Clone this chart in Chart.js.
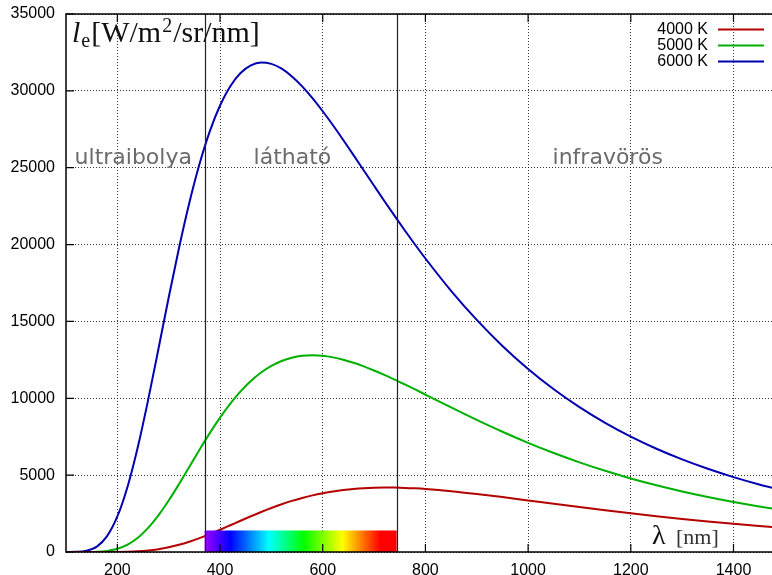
<!DOCTYPE html>
<html>
<head>
<meta charset="utf-8">
<script src="https://cdn.jsdelivr.net/npm/chart.js@4/dist/chart.umd.min.js"></script>
<style>
  html, body { margin: 0; padding: 0; background: #fff; }
  #wrap { width: 772px; height: 575px; position: relative; }
</style>
</head>
<body>
<div id="wrap"><canvas id="c" width="772" height="575"></canvas></div>
<script>
// Spectral radiance of a black body, W/m²/sr/nm, sampled by wavelength (nm)
const wavelengths = [100,120,140,160,180,200,220,240,260,280,300,320,340,360,380,400,420,440,460,480,
  500,520,540,560,580,600,620,640,660,680,700,720,740,760,780,800,
  850,900,950,1000,1050,1100,1150,1200,1250,1300,1350,1400,1450,1500];

const radiance4000 = [0,0,0,0.2,1.3,5.8,18.3,46.3,98.4,182,304,466,667,902,1164,1446,1739,2034,2324,2603,
  2865,3106,3324,3517,3684,3825,3942,4034,4104,4152,4181,4193,4189,4171,4140,4098,
  3957,3776,3572,3356,3137,2922,2713,2515,2327,2152,1988,1837,1697,1568];

const radiance5000 = [0,0.2,2.6,17.6,71.9,210,482,928,1565,2382,3346,4414,5533,6654,7735,8742,9652,10447,11121,11673,
  12106,12426,12640,12760,12797,12761,12661,12507,12310,12074,11810,11523,11219,10900,10574,10242,
  9408,8595,7822,7102,6437,5832,5282,4786,4339,3937,3576,3252,2960,2699];

const radiance6000 = [0.5,10,81,352,1032,2310,4266,6848,9898,13206,16558,19765,22691,25239,27364,29047,30304,31161,31660,31843,
  31753,31440,30940,30291,29525,28673,27760,26800,25817,24819,23824,22836,21866,20914,19989,19094,
  16992,15098,13406,11909,10588,9425,8404,7506,6717,6023,5412,4872,4395,3974];

const seriesLabels = ['4000 K', '5000 K', '6000 K'];
const seriesColors = ['#b50000', '#00b000', '#0000b0'];

const xTickValues = [200, 400, 600, 800, 1000, 1200, 1400];
const yTickValues = [0, 5000, 10000, 15000, 20000, 25000, 30000, 35000];

// Visible range (nm) and the height of the colour band drawn inside it
const visibleRange = [370, 744];
const bandTop = 1400;

const regionNames = ['ultraibolya', 'látható', 'infravörös'];
const regionCenters = [231, 541, 1155];
const regionBaseline = 25250;

const toPoints = vals => wavelengths.map((w, i) => ({ x: w, y: vals[i] }));

const decor = {
  id: 'decor',
  afterDatasetsDraw(chart) {
    const { ctx, chartArea: a, scales: { x, y } } = chart;
    ctx.save();
    // colour band of the visible spectrum
    const x0 = x.getPixelForValue(visibleRange[0]);
    const x1 = x.getPixelForValue(visibleRange[1]);
    const yt = y.getPixelForValue(bandTop);
    const yb = y.getPixelForValue(0);
    const g = ctx.createLinearGradient(x0, 0, x1, 0);
    g.addColorStop(0.0, '#a000ff');
    g.addColorStop(0.134, '#0000ff');
    g.addColorStop(0.334, '#00ffff');
    g.addColorStop(0.516, '#00ff00');
    g.addColorStop(0.717, '#ffff00');
    g.addColorStop(0.914, '#ff0000');
    g.addColorStop(1.0, '#ff0000');
    ctx.fillStyle = g;
    ctx.fillRect(x0, yt, x1 - x0, yb - yt);

    // boundaries of the visible range
    ctx.strokeStyle = '#222';
    ctx.lineWidth = 1.2;
    for (const v of visibleRange) {
      const px = Math.round(x.getPixelForValue(v)) + 0.5;
      ctx.beginPath();
      ctx.moveTo(px, a.top);
      ctx.lineTo(px, a.bottom);
      ctx.stroke();
    }
    ctx.restore();
  },
  afterDraw(chart) {
    const { ctx, chartArea: a, scales: { x, y } } = chart;
    ctx.save();
    // frame
    ctx.strokeStyle = '#000';
    ctx.lineWidth = 1.5;
    ctx.beginPath();
    ctx.moveTo(chart.width + 2, a.top);
    ctx.lineTo(a.left, a.top);
    ctx.lineTo(a.left, a.bottom);
    ctx.lineTo(chart.width + 2, a.bottom);
    ctx.stroke();

    // inward tick marks
    const tl = 8;
    ctx.lineWidth = 1.2;
    ctx.beginPath();
    for (const v of xTickValues) {
      const px = x.getPixelForValue(v);
      ctx.moveTo(px, a.bottom); ctx.lineTo(px, a.bottom - tl);
      ctx.moveTo(px, a.top); ctx.lineTo(px, a.top + tl);
    }
    for (const v of yTickValues) {
      const py = y.getPixelForValue(v);
      ctx.moveTo(a.left, py); ctx.lineTo(a.left + tl, py);
    }
    ctx.stroke();

    // region names
    ctx.fillStyle = '#6b6b6b';
    ctx.font = '22px "DejaVu Sans"';
    ctx.textAlign = 'center';
    ctx.textBaseline = 'alphabetic';
    const ry = y.getPixelForValue(regionBaseline);
    regionNames.forEach((t, i) => ctx.fillText(t, x.getPixelForValue(regionCenters[i]), ry));

    // y axis quantity: l_e [W/m^2/sr/nm]
    ctx.fillStyle = '#111';
    ctx.textAlign = 'left';
    let tx = a.left + 6;
    const by = a.top + 28;
    ctx.font = 'italic 30px "Liberation Serif"';
    ctx.fillText('l', tx, by); tx += ctx.measureText('l').width + 1;
    ctx.font = '20px "Liberation Serif"';
    ctx.fillText('e', tx, by + 5); tx += ctx.measureText('e').width + 1;
    ctx.font = '30px "Liberation Serif"';
    ctx.fillText('[W/m', tx, by); tx += ctx.measureText('[W/m').width;
    ctx.font = '20px "Liberation Serif"';
    ctx.fillText('2', tx + 1, by - 10); tx += ctx.measureText('2').width + 2;
    ctx.font = '30px "Liberation Serif"';
    ctx.fillText('/sr/nm]', tx, by);

    // x axis quantity: λ [nm]
    ctx.font = '28px "Liberation Serif"';
    ctx.fillText('λ', 652, a.bottom - 8);
    ctx.fillStyle = '#333';
    ctx.font = '22px "Liberation Serif"';
    ctx.fillText('[nm]', 676, a.bottom - 8);

    // legend
    ctx.font = '16px "Liberation Sans"';
    ctx.textAlign = 'right';
    ctx.textBaseline = 'middle';
    chart.data.datasets.forEach((ds, i) => {
      const ly = a.top + 15.5 + i * 16;
      ctx.fillStyle = '#000';
      ctx.fillText(ds.label, 708, ly);
      ctx.strokeStyle = ds.borderColor;
      ctx.lineWidth = 2;
      ctx.beginPath();
      ctx.moveTo(718, ly);
      ctx.lineTo(764, ly);
      ctx.stroke();
    });
    ctx.restore();
  }
};

const gridStyle = { color: 'rgba(0,0,0,0.8)', lineWidth: 1, drawTicks: false };
const tickFont = { family: 'Liberation Sans', size: 16 };
const plainNumber = v => String(v);

new Chart(document.getElementById('c'), {
  type: 'line',
  data: {
    datasets: [radiance4000, radiance5000, radiance6000].map((vals, i) => ({
      label: seriesLabels[i],
      data: toPoints(vals),
      borderColor: seriesColors[i],
      borderWidth: 2,
      pointRadius: 0,
      cubicInterpolationMode: 'monotone',
      fill: false
    }))
  },
  options: {
    responsive: false,
    animation: false,
    devicePixelRatio: 1,
    layout: { padding: { top: 14, right: 0, left: 0, bottom: 0 } },
    plugins: { legend: { display: false }, tooltip: { enabled: false } },
    scales: {
      x: {
        type: 'linear',
        min: 100,
        max: 1475,
        afterBuildTicks: s => { s.ticks = xTickValues.map(v => ({ value: v })); },
        afterFit: s => { s.height = 23; s.paddingRight = 0; s.paddingLeft = 0; },
        ticks: { font: tickFont, color: '#000', padding: 9, maxRotation: 0, autoSkip: false, callback: plainNumber },
        grid: gridStyle,
        border: { display: false, dash: [1, 2] }
      },
      y: {
        type: 'linear',
        min: 0,
        max: 35000,
        afterBuildTicks: s => { s.ticks = yTickValues.map(v => ({ value: v })); },
        afterFit: s => { s.width = 66; s.paddingTop = 0; s.paddingBottom = 0; },
        ticks: { font: tickFont, color: '#000', padding: 11, callback: plainNumber },
        grid: gridStyle,
        border: { display: false, dash: [1, 2] }
      }
    }
  },
  plugins: [decor]
});
</script>
</body>
</html>
